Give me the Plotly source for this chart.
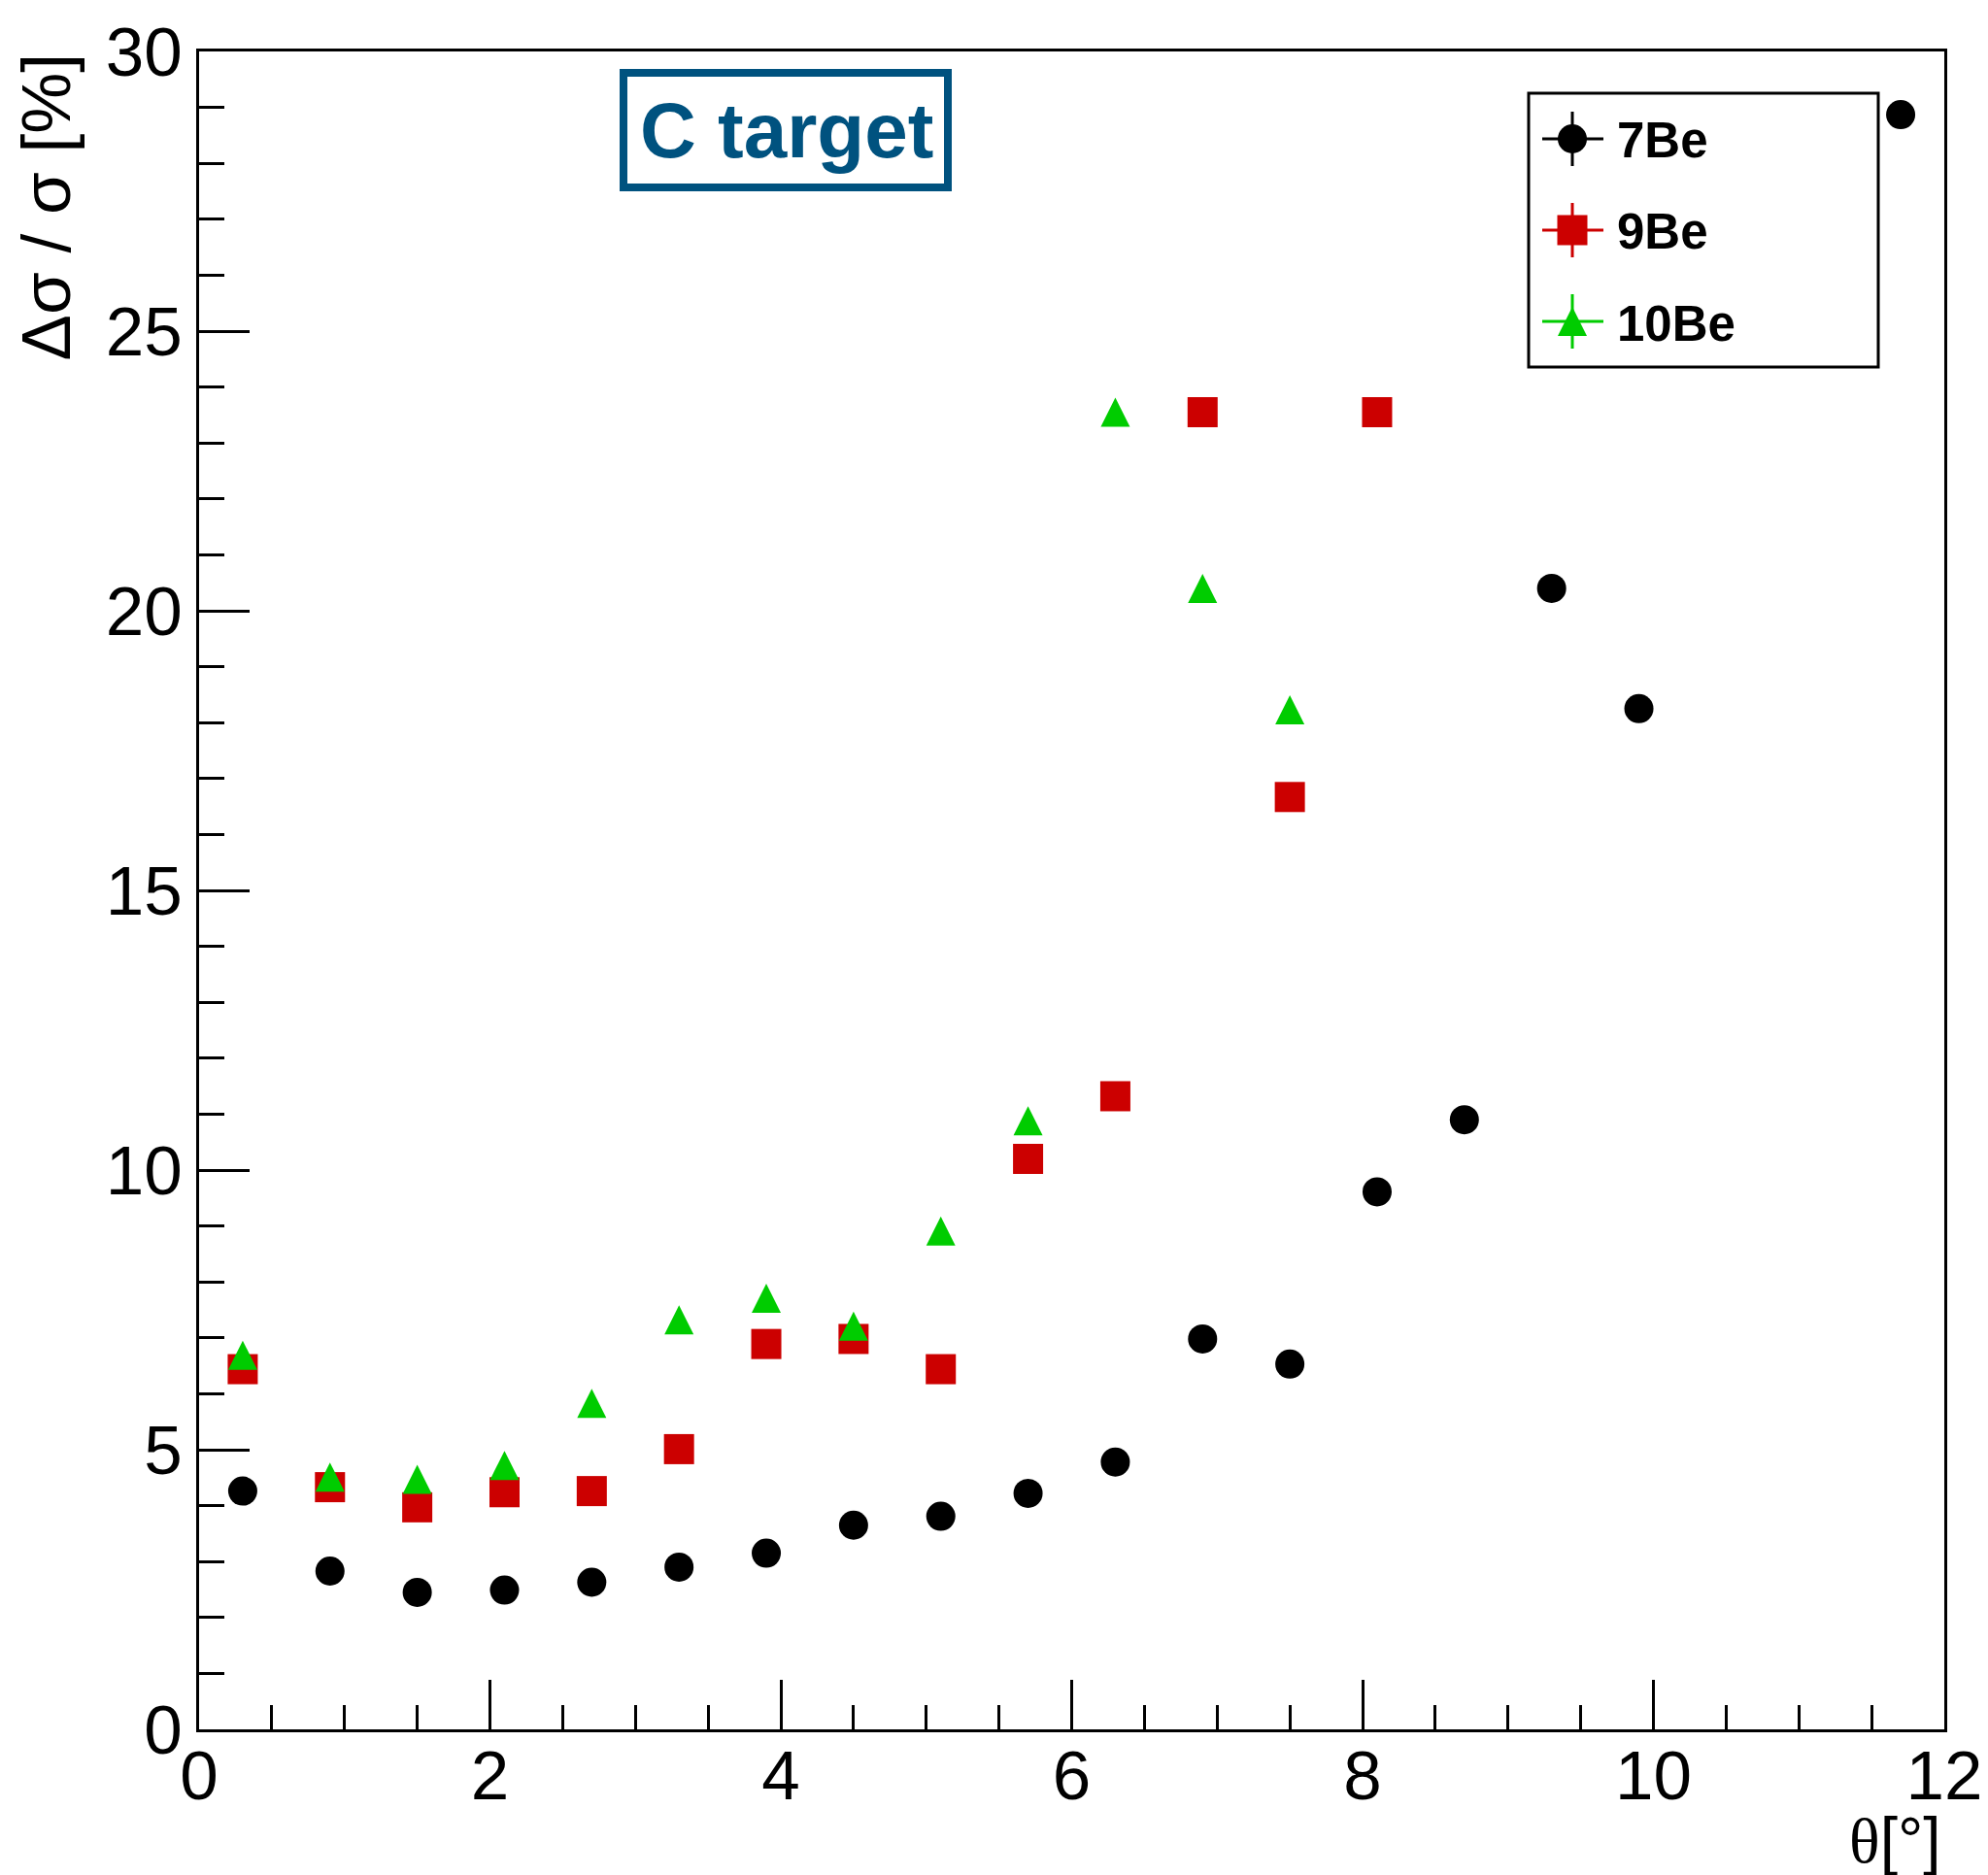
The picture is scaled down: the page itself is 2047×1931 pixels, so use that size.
import plotly.graph_objects as go

# ---------------- data ----------------
theta = [0.3, 0.9, 1.5, 2.1, 2.7, 3.3, 3.9, 4.5, 5.1, 5.7, 6.3, 6.9, 7.5, 8.1, 8.7, 9.3, 9.9, 11.7]
be7 = [4.26, 2.83, 2.45, 2.49, 2.63, 2.90, 3.15, 3.65, 3.81, 4.22, 4.78, 6.98, 6.53, 9.61, 10.9, 20.40, 18.25, 28.87]

theta9 = [0.3, 0.9, 1.5, 2.1, 2.7, 3.3, 3.9, 4.5, 5.1, 5.7, 6.3, 6.9, 7.5, 8.1]
be9 = [6.44, 4.33, 3.97, 4.24, 4.26, 5.01, 6.89, 6.98, 6.44, 10.2, 11.32, 23.55, 16.67, 23.55]

theta10 = [0.3, 0.9, 1.5, 2.1, 2.7, 3.3, 3.9, 4.5, 5.1, 5.7, 6.3, 6.9, 7.5]
be10 = [6.69, 4.51, 4.47, 4.72, 5.83, 7.32, 7.71, 7.21, 8.91, 10.88, 23.55, 20.40, 18.23]

series_names = ["7Be", "9Be", "10Be"]
series_colors = ["#000000", "#cc0000", "#00cc00"]

x_range = [0, 12]
y_range = [0, 30]

# ---------------- layout geometry ----------------
W, H = 2047, 1931
ML, MR, MT, MB = 205, 45, 53, 150
PW, PH = W - ML - MR, H - MT - MB

def px(xp):
    return (xp - ML) / PW

def py(yp):
    return (H - MB - yp) / PH

SANS = "Liberation Sans, Arial, sans-serif"
TRI = 30
delta = (TRI / 2) / (PH / (y_range[1] - y_range[0]))

fig = go.Figure()
fig.add_trace(go.Scatter(x=theta, y=be7, mode="markers", name=series_names[0],
                         marker=dict(symbol="circle", size=30, color=series_colors[0], line=dict(width=0))))
fig.add_trace(go.Scatter(x=theta9, y=be9, mode="markers", name=series_names[1],
                         marker=dict(symbol="square", size=31, color=series_colors[1], line=dict(width=0))))
fig.add_trace(go.Scatter(x=theta10, y=be10, mode="markers", name=series_names[2], yaxis="y2",
                         marker=dict(symbol="arrow-up", size=TRI, color=series_colors[2], line=dict(width=0))))

axis_common = dict(showgrid=False, zeroline=False, showline=True, linewidth=3, linecolor="black",
                   mirror=True, ticks="inside", tickwidth=3, tickcolor="black", automargin=False,
                   tickfont=dict(family=SANS, size=71, color="black"))

fig.update_layout(
    width=W, height=H,
    margin=dict(l=ML, r=MR, t=MT, b=MB, autoexpand=False),
    paper_bgcolor="white", plot_bgcolor="white",
    showlegend=False,
    xaxis=dict(range=x_range, tick0=0, dtick=2, ticklen=51, ticklabelstandoff=-16,
               minor=dict(dtick=0.5, ticklen=25, ticks="inside", tickwidth=3, tickcolor="black"),
               **axis_common),
    yaxis=dict(range=y_range, tick0=0, dtick=5, ticklen=52,
               minor=dict(dtick=1, ticklen=26, ticks="inside", tickwidth=3, tickcolor="black"),
               **axis_common),
    yaxis2=dict(range=[y_range[0] - delta, y_range[1] - delta], overlaying="y", visible=False,
                showgrid=False, zeroline=False, automargin=False),
)

annotations = []
shapes = []

# y-axis title
annotations.append(dict(xref="paper", yref="paper", x=px(47), y=py(53), xanchor="center", yanchor="top",
                        text="Δσ / σ [%]", textangle=-90, showarrow=False,
                        font=dict(family=SANS, size=71, color="black")))
# x-axis title
annotations.append(dict(xref="paper", yref="paper", x=px(2001), y=py(1856), xanchor="right", yanchor="top",
                        text="<span style='font-family:Liberation Serif, Times New Roman, serif'>θ</span>[°]",
                        showarrow=False, font=dict(family=SANS, size=66, color="black")))

# "C target" box
TBLUE = "#00527f"
shapes.append(dict(type="rect", xref="paper", yref="paper", x0=px(642), x1=px(976), y0=py(75), y1=py(193),
                   line=dict(color=TBLUE, width=8), fillcolor="rgba(0,0,0,0)"))
annotations.append(dict(xref="paper", yref="paper", x=px(810), y=py(134), xanchor="center", yanchor="middle",
                        text="<b>C target</b>", showarrow=False,
                        font=dict(family=SANS, size=80, color=TBLUE)))

# legend
shapes.append(dict(type="rect", xref="paper", yref="paper", x0=px(1574), x1=px(1934), y0=py(96), y1=py(378),
                   line=dict(color="black", width=3), fillcolor="white", layer="below"))
leg_y = [143, 237, 331]
cx = 1619
for name, col, yc in zip(series_names, series_colors, leg_y):
    shapes.append(dict(type="line", xref="paper", yref="paper", x0=px(1588), x1=px(1651), y0=py(yc), y1=py(yc),
                       line=dict(color=col, width=3)))
    shapes.append(dict(type="line", xref="paper", yref="paper", x0=px(cx), x1=px(cx), y0=py(yc - 28), y1=py(yc + 28),
                       line=dict(color=col, width=3)))
    base = dict(xref="paper", yref="paper", xsizemode="pixel", ysizemode="pixel",
                xanchor=px(cx), yanchor=py(yc), fillcolor=col, line=dict(width=0))
    if name == "7Be":
        shapes.append(dict(type="circle", x0=-15, x1=15, y0=-15, y1=15, **base))
    elif name == "9Be":
        shapes.append(dict(type="rect", x0=-15.5, x1=15.5, y0=-15.5, y1=15.5, **base))
    else:
        shapes.append(dict(type="path", path="M-15,-15L15,-15L0,15Z", **base))
    annotations.append(dict(xref="paper", yref="paper", x=px(1663), y=py(yc + 2), xanchor="left", yanchor="middle",
                            text="<b>%s</b>" % name, showarrow=False,
                            font=dict(family=SANS, size=51, color="black")))

fig.update_layout(annotations=annotations, shapes=shapes)
fig.write_html("out.html")
